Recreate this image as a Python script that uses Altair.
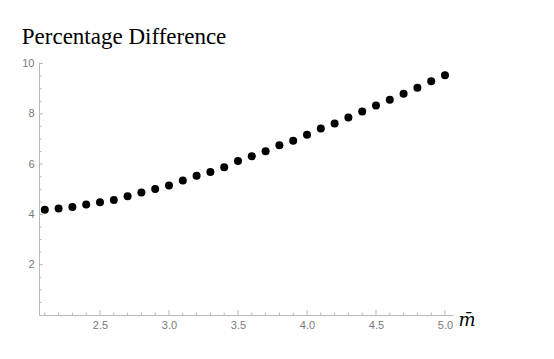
import altair as alt
import pandas as pd

m_values = [2.1, 2.2, 2.3, 2.4, 2.5, 2.6, 2.7, 2.8, 2.9, 3.0,
            3.1, 3.2, 3.3, 3.4, 3.5, 3.6, 3.7, 3.8, 3.9, 4.0,
            4.1, 4.2, 4.3, 4.4, 4.5, 4.6, 4.7, 4.8, 4.9, 5.0]
pct_diff = [4.19, 4.23, 4.29, 4.39, 4.48, 4.57, 4.72, 4.87, 5.01, 5.15,
            5.35, 5.54, 5.69, 5.87, 6.12, 6.31, 6.51, 6.75, 6.93, 7.17,
            7.42, 7.61, 7.85, 8.09, 8.33, 8.56, 8.80, 9.04, 9.29, 9.53]

x_major = [2.5, 3.0, 3.5, 4.0, 4.5, 5.0]
x_minor = [2.1, 2.2, 2.3, 2.4, 2.6, 2.7, 2.8, 2.9, 3.1, 3.2, 3.3, 3.4,
           3.6, 3.7, 3.8, 3.9, 4.1, 4.2, 4.3, 4.4, 4.6, 4.7, 4.8, 4.9]
y_major = [2, 4, 6, 8, 10]
y_minor = [0.5, 1, 1.5, 2.5, 3, 3.5, 4.5, 5, 5.5, 6.5, 7, 7.5, 8.5, 9, 9.5]

W, H = 414, 253
AXIS_GRAY = "#b8b8b8"
LABEL_GRAY = "#7a7a7a"

xscale = alt.Scale(domain=[2.058, 5.058], nice=False, zero=False)
yscale = alt.Scale(domain=[0, 10.06], nice=False, zero=False)

df = pd.DataFrame({"m": m_values, "p": pct_diff})

points = alt.Chart(df).mark_circle(size=64, color="black", opacity=1).encode(
    x=alt.X("m:Q", scale=xscale,
            axis=alt.Axis(values=x_major, format=".1f", ticks=False, grid=False,
                          domainColor=AXIS_GRAY, domainWidth=1,
                          labelColor=LABEL_GRAY, labelFont="Liberation Sans",
                          labelFontSize=11, labelPadding=4,
                          title="m\u0304", titleFont="DejaVu Serif",
                          titleFontStyle="italic", titleFontWeight="normal",
                          titleFontSize=18, titleColor="black",
                          titleX=W + 5, titleY=10, titleAlign="left",
                          titleBaseline="alphabetic")),
    y=alt.Y("p:Q", scale=yscale,
            axis=alt.Axis(values=y_major, ticks=False, grid=False,
                          domainColor=AXIS_GRAY, domainWidth=1,
                          labelColor=LABEL_GRAY, labelFont="Liberation Sans",
                          labelFontSize=11, labelPadding=5, title=None)),
)

xmaj = alt.Chart(pd.DataFrame({"m": x_major})).mark_rule(color=AXIS_GRAY, strokeWidth=1).encode(
    x=alt.X("m:Q", scale=xscale), y=alt.value(H), y2=alt.value(H - 5))
xmin = alt.Chart(pd.DataFrame({"m": x_minor})).mark_rule(color=AXIS_GRAY, strokeWidth=1).encode(
    x=alt.X("m:Q", scale=xscale), y=alt.value(H), y2=alt.value(H - 2.5))
ymaj = alt.Chart(pd.DataFrame({"p": y_major})).mark_rule(color=AXIS_GRAY, strokeWidth=1).encode(
    y=alt.Y("p:Q", scale=yscale), x=alt.value(0), x2=alt.value(4))
ymin = alt.Chart(pd.DataFrame({"p": y_minor})).mark_rule(color=AXIS_GRAY, strokeWidth=1).encode(
    y=alt.Y("p:Q", scale=yscale), x=alt.value(0), x2=alt.value(2.5))

chart = alt.layer(points, xmin, xmaj, ymin, ymaj).properties(
    width=W, height=H,
    autosize="none",
    padding={"left": 31, "top": 54, "right": 70, "bottom": 30},
    title=alt.TitleParams("Percentage Difference", font="Liberation Serif",
                          fontSize=23, fontWeight="normal", color="black",
                          anchor="start", offset=9),
).configure_view(stroke=None)

chart.save("out.html", embed_options={"renderer": "svg", "actions": False})
